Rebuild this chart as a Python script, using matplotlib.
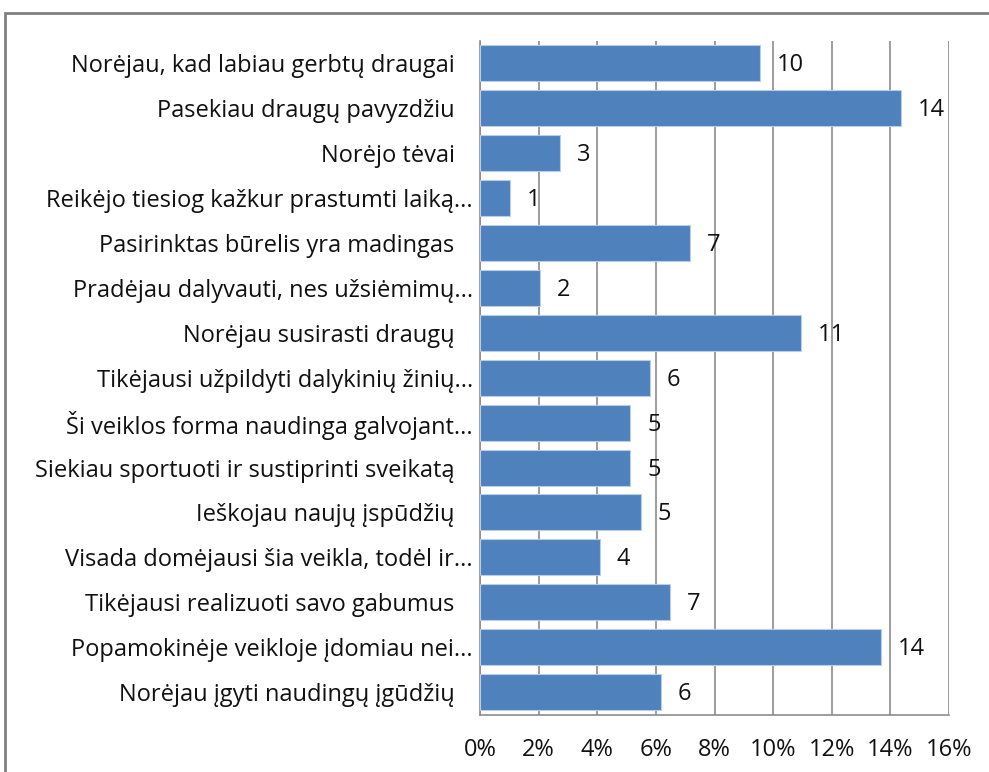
import matplotlib
matplotlib.use("Agg")
import matplotlib.pyplot as plt
from matplotlib.patches import Rectangle
from matplotlib.ticker import FuncFormatter, MultipleLocator

categories = [
    "Norėjau, kad labiau gerbtų draugai   ",
    "Pasekiau draugų pavyzdžiu   ",
    "Norėjo tėvai   ",
    "Reikėjo tiesiog kažkur prastumti laiką...",
    "Pasirinktas būrelis yra madingas   ",
    "Pradėjau dalyvauti, nes užsiėmimų...",
    "Norėjau susirasti draugų   ",
    "Tikėjausi užpildyti dalykinių žinių...",
    "Ši veiklos forma naudinga galvojant...",
    "Siekiau sportuoti ir sustiprinti sveikatą   ",
    "Ieškojau naujų įspūdžių   ",
    "Visada domėjausi šia veikla, todėl ir...",
    "Tikėjausi realizuoti savo gabumus   ",
    "Popamokinėje veikloje įdomiau nei...",
    "Norėjau įgyti naudingų įgūdžių   ",
]
percents = [9.56, 14.35, 2.73, 1.01, 7.16, 2.05, 10.96, 5.80, 5.12, 5.12,
            5.48, 4.09, 6.48, 13.67, 6.17]
counts = [10, 14, 3, 1, 7, 2, 11, 6, 5, 5, 5, 4, 7, 14, 6]

plt.rcParams['font.family'] = ['Open Sans', 'DejaVu Sans']

W, H = 989, 772
fig = plt.figure(figsize=(W / 100, H / 100), dpi=100)
ax = fig.add_axes([480 / W, 1 - 714.5 / H, (949 - 480) / W, (714.5 - 41) / H])

ypos = list(range(len(categories)))
ax.barh(ypos, percents, height=0.8, color="#4F81BD", edgecolor="#B9CDE5",
        linewidth=0.8, zorder=3)
for y, p, c in zip(ypos, percents, counts):
    ax.annotate(str(c), xy=(p, y), xytext=(17, -2), textcoords="offset pixels",
                va="center", ha="left", fontsize=17, color="#111111", zorder=4)

ax.set_ylim(len(categories) - 0.5, -0.5)
ax.set_xlim(0, 16)
ax.set_yticks(ypos)
ax.set_yticklabels(categories, fontsize=17, color="#111111")
ax.xaxis.set_major_locator(MultipleLocator(2))
ax.xaxis.set_major_formatter(FuncFormatter(lambda v, _: f"{v:.0f}%"))
ax.tick_params(axis="x", labelsize=17, colors="#111111", length=0, pad=17)
ax.tick_params(axis="y", length=0, pad=5)
ax.grid(axis="x", color="#8c8c8c", linewidth=1.2, zorder=0)
for side in ["top", "right"]:
    ax.spines[side].set_visible(False)
for side in ["left", "bottom"]:
    ax.spines[side].set_color("#8c8c8c")
    ax.spines[side].set_linewidth(1.2)

fig.patches.append(Rectangle((5 / W, -0.1), 1.2, 1 - 13 / H + 0.1,
                             transform=fig.transFigure, fill=False,
                             edgecolor="#808080", linewidth=2))

fig.savefig("out.png", dpi=100)
